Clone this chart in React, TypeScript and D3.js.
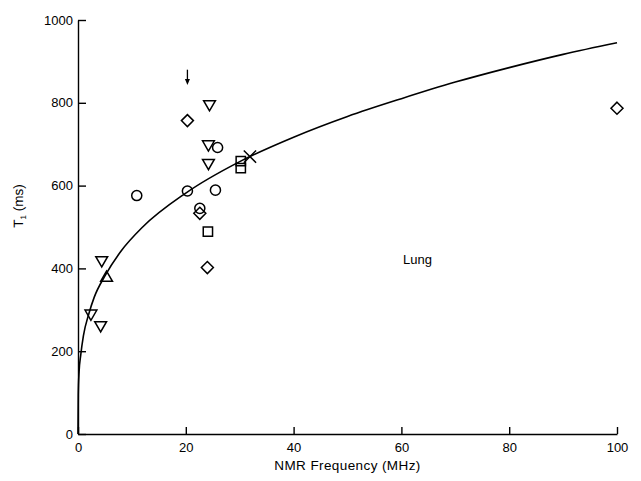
import React, { useEffect, useRef } from "react";
import * as d3 from "d3";

// Tick values
const xTicks = [0, 20, 40, 60, 80, 100];
const yTicks = [0, 200, 400, 600, 800, 1000];

// Data points by marker type (frequency MHz, T1 ms)
const circleFreq = [10.9, 20.3, 25.5, 22.6, 25.9];
const circleT1 = [576, 587, 589, 545, 692];

const triDownFreq = [24.4, 24.2, 24.2, 4.4, 2.4, 4.2];
const triDownT1 = [797, 700, 655, 420, 291, 263];

const triUpFreq = [5.3];
const triUpT1 = [377];

const diamondFreq = [20.3, 22.6, 24.0, 100];
const diamondT1 = [757, 533, 402, 787];

const squareFreq = [30.2, 30.2, 24.1];
const squareT1 = [659, 642, 489];

const crossFreq = [31.9];
const crossT1 = [670];

// Fitted curve
const curveFreq = [0, 0.05, 0.2, 0.5, 1, 2, 3, 5, 8, 12, 20, 30, 40, 50, 60, 70, 80, 90, 100];
const curveT1 = [0, 95, 150, 190, 237, 290, 330, 382, 442, 500, 582, 658, 717, 767, 810, 850, 885, 917, 945];

// Arrow annotation
const arrowFreq = 20.3;
const arrowT1 = [880, 843];

const W = 641;
const H = 481;

export default function App() {
  const ref = useRef<SVGSVGElement>(null);

  useEffect(() => {
    document.body.style.margin = "0";
    const svg = d3.select(ref.current);
    svg.selectAll("*").remove();

    const x = d3.scaleLinear().domain([0, 100]).range([78, 617]);
    const y = d3.scaleLinear().domain([0, 1000]).range([434, 20]);
    const font = "'Liberation Sans', Arial, Helvetica, sans-serif";

    // X axis
    const gx = svg
      .append("g")
      .attr("transform", `translate(0,${y(0)})`)
      .call(
        d3
          .axisBottom(x)
          .tickValues(xTicks)
          .tickSizeInner(-7)
          .tickSizeOuter(0)
          .tickPadding(9)
          .tickFormat(d3.format("d"))
      );
    gx.selectAll("path,line").attr("stroke", "#000").attr("stroke-width", 1.4);
    gx.selectAll("text").attr("font-family", font).attr("font-size", 13).attr("fill", "#000");

    // Y axis
    const gy = svg
      .append("g")
      .attr("transform", `translate(${x(0)},0)`)
      .call(
        d3
          .axisLeft(y)
          .tickValues(yTicks)
          .tickSizeInner(-8)
          .tickSizeOuter(0)
          .tickPadding(5)
          .tickFormat(d3.format("d"))
      );
    gy.selectAll("path,line").attr("stroke", "#000").attr("stroke-width", 1.4);
    gy.selectAll("text").attr("font-family", font).attr("font-size", 13).attr("fill", "#000");

    // Axis titles
    svg
      .append("text")
      .attr("x", (x(0) + x(100)) / 2)
      .attr("y", 470)
      .attr("text-anchor", "middle")
      .attr("font-family", font)
      .attr("font-size", 13.5)
      .attr("letter-spacing", 0.4)
      .attr("fill", "#000")
      .text("NMR Frequency (MHz)");

    const yl = svg
      .append("g")
      .attr("opacity", 0.999)
      .append("text")
      .attr("transform", `translate(23,206) rotate(-90)`)
      .attr("text-anchor", "middle")
      .attr("font-family", font)
      .attr("font-size", 13.5)
      .attr("text-rendering", "geometricPrecision")
      .attr("fill", "#000");
    yl.append("tspan").text("T");
    yl.append("tspan").attr("font-size", 8).attr("dy", 3).text("1");
    yl.append("tspan").attr("dy", -3).text(" (ms)");

    // Label
    svg
      .append("text")
      .attr("x", x(60.3))
      .attr("y", y(410))
      .attr("font-family", font)
      .attr("font-size", 13)
      .attr("fill", "#000")
      .text("Lung");

    // Curve
    const line = d3
      .line<number>()
      .x((_, i) => x(curveFreq[i]))
      .y((d) => y(d))
      .curve(d3.curveMonotoneX);
    svg
      .append("path")
      .attr("d", line(curveT1))
      .attr("fill", "none")
      .attr("stroke", "#000")
      .attr("stroke-width", 1.6);

    // Markers
    const drawSet = (
      fx: number[],
      fy: number[],
      type: d3.SymbolType,
      size: number,
      rot: number
    ) => {
      const sym = d3.symbol().type(type).size(size);
      svg
        .append("g")
        .selectAll("path")
        .data(fx)
        .join("path")
        .attr("d", sym() as string)
        .attr("transform", (d, i) => `translate(${x(d)},${y(fy[i])}) rotate(${rot})`)
        .attr("fill", "none")
        .attr("stroke", "#000")
        .attr("stroke-width", 1.5);
    };
    drawSet(circleFreq, circleT1, d3.symbolCircle, 80, 0);
    drawSet(triDownFreq, triDownT1, d3.symbolTriangle2, 100, 180);
    drawSet(triUpFreq, triUpT1, d3.symbolTriangle2, 100, 0);
    drawSet(diamondFreq, diamondT1, d3.symbolDiamond2, 92, 0);
    drawSet(squareFreq, squareT1, d3.symbolSquare2, 110, 0);
    drawSet(crossFreq, crossT1, d3.symbolTimes, 100, 0);

    // Arrow
    const ax = x(arrowFreq);
    svg
      .append("line")
      .attr("x1", ax)
      .attr("x2", ax)
      .attr("y1", y(arrowT1[0]))
      .attr("y2", y(arrowT1[1]) - 4)
      .attr("stroke", "#000")
      .attr("stroke-width", 1.3);
    const tip = y(arrowT1[1]);
    svg
      .append("path")
      .attr("d", `M${ax - 2.5},${tip - 6}L${ax + 2.5},${tip - 6}L${ax},${tip}Z`)
      .attr("fill", "#000");
  }, []);

  return <svg ref={ref} width={W} height={H} style={{ display: "block", background: "#fff" }} />;
}
